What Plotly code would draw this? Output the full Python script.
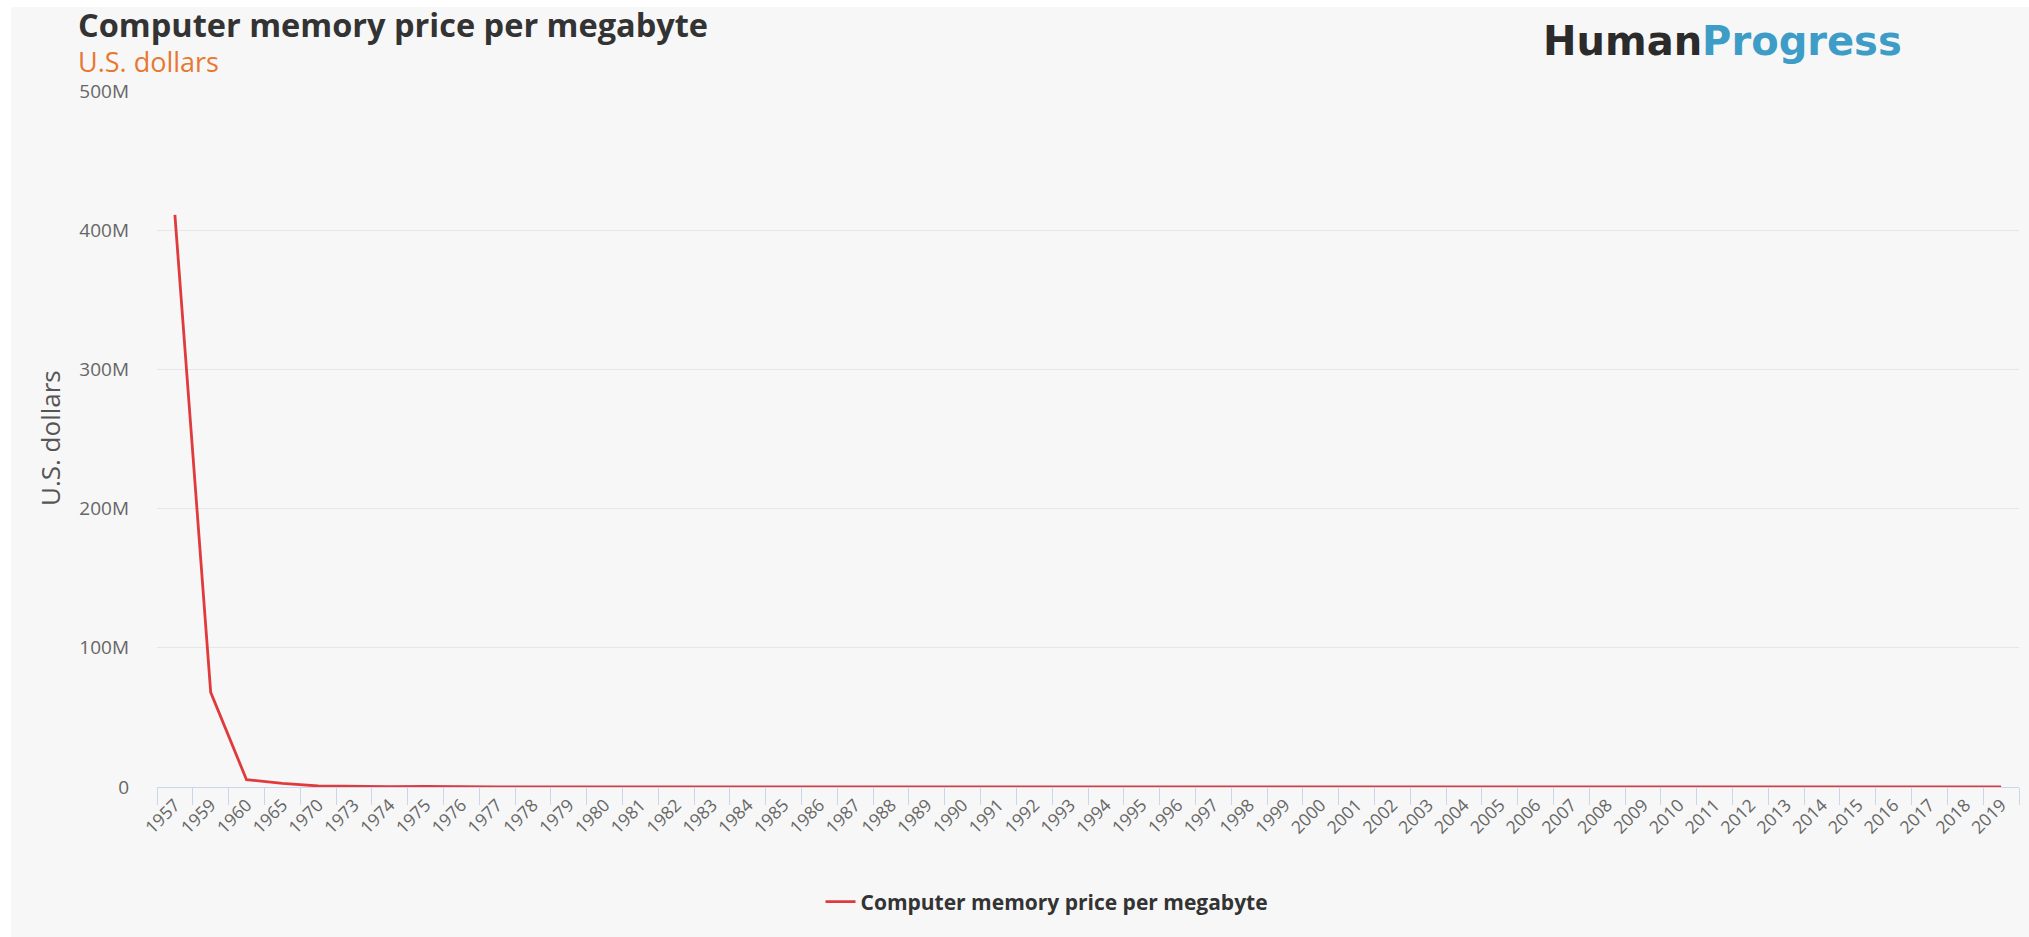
import plotly.graph_objects as go

# ---- data ----
years = ["1957", "1959", "1960", "1965", "1970", "1973", "1974", "1975", "1976", "1977",
         "1978", "1979", "1980", "1981", "1982", "1983", "1984", "1985", "1986", "1987",
         "1988", "1989", "1990", "1991", "1992", "1993", "1994", "1995", "1996", "1997",
         "1998", "1999", "2000", "2001", "2002", "2003", "2004", "2005", "2006", "2007",
         "2008", "2009", "2010", "2011", "2012", "2013", "2014", "2015", "2016", "2017",
         "2018", "2019"]
price_usd = [411000000, 68000000, 5250000, 2640000, 734000, 400000, 315000, 422000, 23000, 32000,
             10200, 6700, 6500, 8800, 4500, 2400, 1980, 1330, 880, 720,
             460, 530, 104, 68, 46, 40, 35, 32, 5.3, 2.2,
             0.84, 0.84, 0.7, 0.18, 0.19, 0.1, 0.16, 0.12, 0.09, 0.05,
             0.02, 0.012, 0.015, 0.011, 0.005, 0.006, 0.008, 0.005, 0.004, 0.006,
             0.0055, 0.0034]
y_tick_vals = [0, 100e6, 200e6, 300e6, 400e6, 500e6]
y_tick_text = ["0", "100M", "200M", "300M", "400M", "500M"]
series_name = "Computer memory price per megabyte"

# ---- geometry helpers (pixels -> paper) ----
W, H = 2029, 937
L, R, T, B = 157, 10, 91, 150
PW, PH = W - L - R, H - T - B
def px(x):
    return (x - L) / PW
def py(y):
    return (H - B - y) / PH

LINE_COLOR = "#e13a3d"
TICK_COLOR = "#666666"

fig = go.Figure()
fig.add_trace(go.Scatter(
    x=years, y=price_usd, mode="lines", name=series_name,
    line=dict(color=LINE_COLOR, width=2.8),
))

fig.update_layout(
    width=W, height=H,
    margin=dict(l=L, r=R, t=T, b=B, pad=0),
    paper_bgcolor="white",
    plot_bgcolor="rgba(0,0,0,0)",
    font=dict(family="Open Sans", color=TICK_COLOR),
    showlegend=True,
    legend=dict(orientation="h", x=px(1047), xanchor="center", y=py(902), yanchor="middle",
                font=dict(family="Open Sans", size=21, color="#333333", weight="bold"),
                bgcolor="rgba(0,0,0,0)", itemwidth=30),
    xaxis=dict(
        type="category", range=[-0.5, len(years) - 0.5],
        tickson="boundaries", ticks="outside", ticklen=17, tickcolor="#ccd6eb", tickwidth=1,
        showline=True, linecolor="#ccd6eb", linewidth=1,
        showgrid=False, tickangle=-45,
        tickfont=dict(family="Open Sans", size=17.5, color=TICK_COLOR),
    ),
    yaxis=dict(
        range=[0, 500e6], tickvals=y_tick_vals, ticktext=y_tick_text,
        showgrid=True, gridcolor="#e6e6e6", gridwidth=1, zeroline=False,
        showline=False, ticks="", ticklabelstandoff=27,
        tickfont=dict(family="Open Sans", size=19, color=TICK_COLOR),
    ),
    shapes=[dict(type="rect", xref="paper", yref="paper", layer="below",
                 x0=px(11), x1=px(W + 5), y0=py(H + 5), y1=py(7),
                 fillcolor="#f7f7f7", line=dict(width=0))],
    annotations=[
        dict(text="Computer memory price per megabyte", xref="paper", yref="paper",
             x=px(76), y=py(25), xanchor="left", yanchor="middle", showarrow=False,
             font=dict(family="Open Sans", size=32.5, color="#333333", weight="bold")),
        dict(text="U.S. dollars", xref="paper", yref="paper",
             x=px(76), y=py(62), xanchor="left", yanchor="middle", showarrow=False,
             font=dict(family="Open Sans", size=27, color="#e8782f")),
        dict(text="Human<span style='color:#3d9dc6'>Progress</span>", xref="paper", yref="paper",
             x=px(1541), y=py(41), xanchor="left", yanchor="middle", showarrow=False,
             font=dict(family="DejaVu Sans", size=40, color="#2b2b2b", weight="bold")),
        dict(text="U.S. dollars", xref="paper", yref="paper", textangle=-90,
             x=px(50), y=py(438), xanchor="center", yanchor="middle", showarrow=False,
             font=dict(family="Open Sans", size=26, color="#555555")),
    ],
)

fig.write_html("out.html")
